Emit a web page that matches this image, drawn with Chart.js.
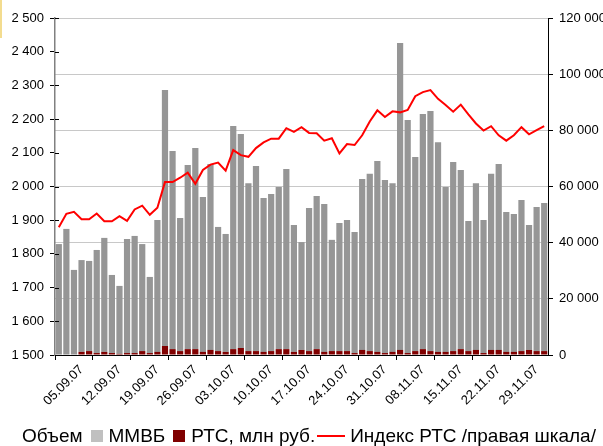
<!DOCTYPE html>
<html>
<head>
<meta charset="utf-8">
<script src="https://cdn.jsdelivr.net/npm/chart.js@4.4.1/dist/chart.umd.min.js"></script>
<style>
  body { margin: 0; background: #fff; }
  #wrap { position: relative; width: 603px; height: 446px; overflow: hidden; }
  #mark { position: absolute; left: 0; top: 0; width: 2px; height: 38px; background: #f3dc8f; }
  #legend { position: absolute; left: 22px; top: 425px; display: flex; align-items: center;
            font-family: 'Liberation Sans', Arial, sans-serif; font-size: 19px; color: #000; white-space: nowrap; }
  .box { display: inline-block; width: 12px; height: 12px; margin: 0 6px 0 8px; }
  .ln { display: inline-block; width: 28px; height: 2px; background: #ff0000; margin: 0 5px 0 2px; }
</style>
</head>
<body>
<div id="wrap">
  <canvas id="chart"></canvas>
  <div id="mark"></div>
  <div id="legend">
    <span>Объем</span><span class="box" style="background:#c0c0c0"></span><span>ММВБ</span><span class="box" style="background:#800000"></span><span>РТС, млн руб.</span><span class="ln"></span><span>Индекс РТС /правая шкала/</span>
  </div>
</div>
<script>
const dates = [
  '31.08.07',
  '03.09.07','04.09.07','05.09.07','06.09.07','07.09.07',
  '10.09.07','11.09.07','12.09.07','13.09.07','14.09.07',
  '17.09.07','18.09.07','19.09.07','20.09.07','21.09.07',
  '24.09.07','25.09.07','26.09.07','27.09.07','28.09.07',
  '01.10.07','02.10.07','03.10.07','04.10.07','05.10.07',
  '08.10.07','09.10.07','10.10.07','11.10.07','12.10.07',
  '15.10.07','16.10.07','17.10.07','18.10.07','19.10.07',
  '22.10.07','23.10.07','24.10.07','25.10.07','26.10.07',
  '29.10.07','30.10.07','31.10.07','01.11.07','02.11.07',
  '06.11.07','07.11.07','08.11.07','09.11.07','12.11.07',
  '13.11.07','14.11.07','15.11.07','16.11.07','19.11.07',
  '20.11.07','21.11.07','22.11.07','23.11.07','26.11.07',
  '27.11.07','28.11.07','29.11.07','30.11.07'
];

// объем ММВБ, млн руб.
const volMicex = [
  39500, 44900, 30300, 32700, 32100, 36700, 40600, 27800, 24200, 40600,
  41700, 38100, 27100, 47000, 91200, 70500, 47400, 65600, 71600, 55200,
  66200, 44200, 42000, 79400, 76200, 59800, 65900, 54800, 55900, 57700,
  64100, 45200, 38400, 50900, 54500, 52700, 39600, 45600, 46700, 43100,
  60900, 63100, 68000, 61600, 60100, 109300, 83000, 69100, 83700, 85500,
  74700, 58700, 67300, 63800, 46300, 59400, 47400, 62700, 66200, 49800,
  49100, 53800, 44500, 51300, 52700
];

// объем РТС, млн руб.
const volRts = [
  null, null, null, 1100, 1400, 700, 1100, 700, 400, 700,
  700, 1400, 700, 1100, 3200, 2100, 1400, 2100, 2100, 1100,
  1800, 1400, 1100, 2100, 2500, 1400, 1400, 1100, 1400, 2100,
  2100, 1100, 1800, 1400, 2100, 1100, 1400, 1400, 1400, 700,
  1800, 1400, 1100, 700, 1100, 1800, 700, 1400, 2100, 1400,
  1100, 1100, 1400, 2100, 1400, 1800, 700, 1800, 1800, 1100,
  1100, 1400, 1800, 1400, 1400
];

// индекс РТС
const rtsIndex = [
  1879, 1919, 1925, 1903, 1903, 1920, 1897, 1897, 1912, 1898,
  1932, 1943, 1916, 1937, 2013, 2013, 2026, 2041, 2008, 2049,
  2065, 2071, 2047, 2108, 2093, 2088, 2114, 2131, 2142, 2142,
  2173, 2162, 2176, 2159, 2158, 2136, 2143, 2098, 2126, 2123,
  2152, 2193, 2226, 2206, 2223, 2220, 2227, 2268, 2280, 2286,
  2260, 2242, 2222, 2243, 2214, 2187, 2166, 2179, 2152, 2136,
  2152, 2176, 2155, 2167, 2179
];

const fnt = { family: "'Liberation Sans', Arial, sans-serif", size: 13 };
const fmt = v => String(v).replace(/\B(?=(\d{3})+(?!\d))/g, ' ');

// засечки левой оси пересекают линию оси
const crossTicks = {
  id: 'crossTicks',
  afterDraw(chart) {
    const s = chart.scales.y;
    const c = chart.ctx;
    c.save();
    c.strokeStyle = '#000';
    c.lineWidth = 1;
    s.ticks.forEach(t => {
      const y = Math.round(s.getPixelForValue(t.value)) + 0.5;
      c.beginPath();
      c.moveTo(s.right, y);
      c.lineTo(s.right + 4, y);
      c.stroke();
    });
    c.restore();
  }
};

new Chart(document.getElementById('chart'), {
  data: {
    labels: dates,
    datasets: [
      {
        type: 'line',
        label: 'Индекс РТС',
        data: rtsIndex,
        yAxisID: 'y',
        borderColor: '#ff0000',
        borderWidth: 2,
        pointRadius: 0,
        tension: 0,
        order: 0
      },
      {
        type: 'bar',
        label: 'РТС, млн руб.',
        data: volRts,
        yAxisID: 'y1',
        backgroundColor: '#800000',
        barPercentage: 0.82,
        categoryPercentage: 1,
        order: 1
      },
      {
        type: 'bar',
        label: 'ММВБ',
        data: volMicex,
        yAxisID: 'y1',
        backgroundColor: '#969696',
        barPercentage: 0.82,
        categoryPercentage: 1,
        order: 2
      }
    ]
  },
  options: {
    responsive: true,
    maintainAspectRatio: false,
    animation: false,
    layout: { padding: { top: 18, left: 0, right: 0, bottom: 0 } },
    plugins: {
      legend: { display: false },
      tooltip: { enabled: false }
    },
    scales: {
      x: {
        stacked: true,
        offset: true,
        grid: {
          offset: true,
          drawOnChartArea: false,
          tickLength: 5,
          tickColor: ctx => (ctx.index % 5 === 0 ? '#000' : 'rgba(0,0,0,0)')
        },
        border: { color: '#000', width: 1 },
        ticks: {
          autoSkip: false,
          maxRotation: 45,
          minRotation: 45,
          padding: 2,
          color: '#000',
          font: fnt,
          callback: (v, i) => (i % 5 === 3 ? dates[i] : '')
        },
        afterFit: s => { s.height = 91; }
      },
      y: {
        position: 'left',
        min: 1500,
        max: 2500,
        ticks: { stepSize: 100, color: '#000', font: fnt, padding: 6, callback: v => fmt(v) },
        grid: { drawOnChartArea: false, tickLength: 5, tickColor: '#000' },
        border: { color: '#808080', width: 1.5 },
        afterFit: s => { s.width = 55; }
      },
      y1: {
        position: 'right',
        stacked: true,
        min: 0,
        max: 120000,
        ticks: { stepSize: 20000, color: '#000', font: fnt, padding: 6, callback: v => fmt(v) },
        grid: { color: '#c8c8c8', lineWidth: 1, tickLength: 5, tickColor: '#000' },
        border: { color: '#000', width: 1 },
        afterFit: s => { s.width = 55; }
      }
    }
  },
  plugins: [crossTicks]
});
</script>
</body>
</html>
